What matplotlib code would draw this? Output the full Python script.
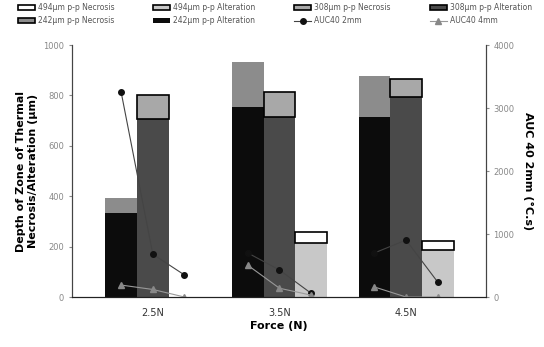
import numpy as np
from matplotlib import pyplot as plt
from matplotlib.patches import Patch

# data
forces = ['2.5N', '3.5N', '4.5N']
alt_242 = [333, 754, 714]
nec_242 = [60, 179, 163]
alt_308 = [706, 714, 794]
nec_308 = [96, 99, 71]
alt_494 = [0, 214, 186]
nec_494 = [0, 44, 36]
auc_2mm = [[3250, 680, 350], [700, 430, 60], [700, 905, 238]]
auc_4mm = [[190, 120, 0], [505, 140, 30], [160, 0, 0]]

fig = plt.figure(figsize=(5.44, 3.47), dpi=100)
ax = fig.add_axes([0.132, 0.144, 0.761, 0.726])
ax2 = ax.twinx()

x = np.arange(len(forces))
w = 0.25

def edges(vals):
    return ['black' if v > 0 else 'none' for v in vals]

ax.bar(x - w, alt_242, w, color='#0c0c0c')
ax.bar(x - w, nec_242, w, bottom=alt_242, color='#8c8c8c')
ax.bar(x, alt_308, w, color='#4a4a4a')
ax.bar(x, nec_308, w, bottom=alt_308, color='#a8a8a8', edgecolor=edges(nec_308), linewidth=1.2)
ax.bar(x + w, alt_494, w, color='#c8c8c8')
ax.bar(x + w, nec_494, w, bottom=alt_494, color='white', edgecolor=edges(nec_494), linewidth=1.2)

for i in range(len(forces)):
    xs = [x[i] - w, x[i], x[i] + w]
    l2, = ax2.plot(xs, auc_2mm[i], '-', color='#444444', lw=0.8, marker='o', ms=4,
                   mfc='#111111', mec='#111111', label='AUC40 2mm')
    l4, = ax2.plot(xs, auc_4mm[i], '-', color='#999999', lw=0.8, marker='^', ms=4,
                   mfc='#888888', mec='#888888', label='AUC40 4mm')

ax.set_xlim(-0.64, 2.63)
ax.set_ylim(0, 1000)
ax2.set_ylim(0, 4000)
ax.set_xticks(x)
ax.set_xticklabels(forces, fontsize=7, color='#333333')
ax.tick_params(axis='x', length=0, pad=8)
ax.set_yticks([0, 200, 400, 600, 800, 1000])
ax.tick_params(axis='y', labelsize=6, colors='#888888', length=2)
ax2.set_yticks([0, 1000, 2000, 3000, 4000])
ax2.tick_params(axis='y', labelsize=6, colors='#888888', length=2)
for a in (ax, ax2):
    a.spines['top'].set_visible(False)
    a.spines['left'].set_color('#444444')
    a.spines['right'].set_color('#444444')
    a.spines['bottom'].set_color('#222222')

ax.set_xlabel('Force (N)', fontsize=8, fontweight='bold', labelpad=2)
ax.set_ylabel('Depth of Zone of Thermal\nNecrosis/Alteration (\u00b5m)', fontsize=8,
              fontweight='bold', labelpad=4)
ax2.set_ylabel('AUC 40 2mm (\u00b0C.s)', fontsize=8, fontweight='bold', labelpad=6, rotation=270,
               va='bottom')

# legend proxies (the bar containers start with an empty bar)
handles = [
    Patch(facecolor='white', edgecolor='black', linewidth=1.2, label='494\u00b5m p-p Necrosis'),
    Patch(facecolor='#8c8c8c', edgecolor='black', linewidth=1.2, label='242\u00b5m p-p Necrosis'),
    Patch(facecolor='#c8c8c8', edgecolor='black', linewidth=1.2, label='494\u00b5m p-p Alteration'),
    Patch(facecolor='#0c0c0c', label='242\u00b5m p-p Alteration'),
    Patch(facecolor='#a8a8a8', edgecolor='black', linewidth=1.2, label='308\u00b5m p-p Necrosis'),
    l2,
    Patch(facecolor='#4a4a4a', edgecolor='black', linewidth=1.2, label='308\u00b5m p-p Alteration'),
    l4,
]
labels = [h.get_label() for h in handles]
leg = fig.legend(handles, labels, ncol=4, loc='upper left', bbox_to_anchor=(0.02, 1.01, 0.97, 0.0),
                 mode='expand', fontsize=5.5, frameon=False, handlelength=2.2,
                 handletextpad=0.4, labelspacing=0.5)
for t in leg.get_texts():
    t.set_color('#555555')

fig.savefig('out.png', dpi=100)
